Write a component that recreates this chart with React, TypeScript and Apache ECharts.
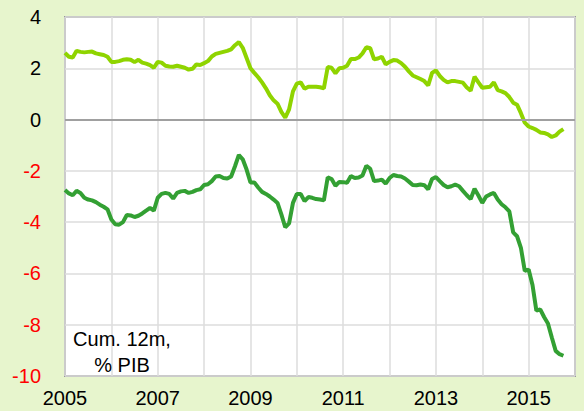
import React, { useEffect, useRef } from "react";
import * as echarts from "echarts";

// Monthly series, Jan 2005 onward
const startYear = 2005;
const upperSeries: number[] = [
  2.60, 2.45, 2.42, 2.68, 2.64, 2.62, 2.64, 2.65, 2.58, 2.55, 2.52, 2.45,
  2.25, 2.25, 2.28, 2.33, 2.35, 2.33, 2.24, 2.33, 2.22, 2.18, 2.12, 2.02,
  2.25, 2.22, 2.10, 2.07, 2.06, 2.10, 2.06, 2.02, 1.95, 1.98, 2.15, 2.13,
  2.20, 2.28, 2.46, 2.56, 2.60, 2.64, 2.68, 2.74, 2.90, 3.02, 2.80, 2.40,
  2.00, 1.82, 1.65, 1.45, 1.22, 0.95, 0.75, 0.62, 0.30, 0.07, 0.40, 1.10,
  1.40, 1.45, 1.20, 1.28, 1.28, 1.28, 1.26, 1.22, 2.05, 2.02, 1.80, 2.00,
  2.02, 2.10, 2.36, 2.36, 2.42, 2.58, 2.82, 2.78, 2.35, 2.38, 2.45, 2.15,
  2.25, 2.32, 2.30, 2.20, 2.06, 1.88, 1.72, 1.65, 1.58, 1.50, 1.33, 1.82,
  1.92, 1.70, 1.55, 1.45, 1.50, 1.50, 1.47, 1.44, 1.25, 1.13, 1.67, 1.45,
  1.24, 1.26, 1.28, 1.45, 1.15, 1.10, 1.03, 0.88, 0.66, 0.58, 0.25, -0.12,
  -0.27, -0.33, -0.40, -0.50, -0.52, -0.58, -0.68, -0.62, -0.47, -0.37,
];
const lowerSeries: number[] = [
  -2.75, -2.88, -2.95, -2.78, -2.86, -3.05, -3.12, -3.15, -3.22, -3.32, -3.40, -3.50,
  -3.90, -4.08, -4.10, -4.00, -3.72, -3.74, -3.80, -3.75, -3.66, -3.55, -3.45, -3.55,
  -3.05, -2.90, -2.86, -2.90, -3.08, -2.86, -2.80, -2.78, -2.86, -2.82, -2.75, -2.72,
  -2.55, -2.52, -2.40, -2.22, -2.20, -2.28, -2.30, -2.22, -1.82, -1.38, -1.55, -1.95,
  -2.45, -2.45, -2.65, -2.82, -2.90, -3.00, -3.12, -3.25, -3.70, -4.20, -4.05, -3.25,
  -2.90, -2.90, -3.18, -3.02, -3.05, -3.10, -3.12, -3.15, -2.25, -2.32, -2.58, -2.43,
  -2.44, -2.46, -2.20, -2.28, -2.26, -2.18, -1.80, -1.92, -2.40, -2.38, -2.34, -2.50,
  -2.28, -2.16, -2.20, -2.22, -2.30, -2.42, -2.55, -2.56, -2.53, -2.56, -2.72, -2.32,
  -2.24, -2.40, -2.55, -2.64, -2.60, -2.54, -2.60, -2.78, -2.95, -3.10, -2.70, -2.96,
  -3.25, -3.00, -2.92, -2.86, -3.12, -3.30, -3.42, -3.58, -4.40, -4.55, -5.00, -5.90,
  -5.85, -6.45, -7.45, -7.40, -7.70, -7.95, -8.50, -9.02, -9.15, -9.21,
];
const xMin = 2005;
const xMax = 2016;
const yMin = -10;
const yMax = 4;
const noteText = "Cum. 12m,\n% PIB";

const FONT = "Arial, 'Liberation Sans', sans-serif";

export default function App() {
  const ref = useRef<HTMLDivElement>(null);
  useEffect(() => {
    if (!ref.current) return;
    const chart = echarts.init(ref.current, null, { renderer: "svg" });
    const toPairs = (arr: number[]) => arr.map((v, i) => [startYear + i / 12, v]);
    chart.setOption({
      animation: false,
      backgroundColor: "#E7F5CD",
      grid: {
        left: 65,
        right: 9,
        top: 17,
        bottom: 35,
        show: true,
        backgroundColor: "#FFFFFF",
        borderColor: "#999999",
        borderWidth: 2,
      },
      xAxis: {
        type: "value",
        min: xMin,
        max: xMax,
        interval: 1,
        axisLine: { show: false },
        axisTick: { show: false },
        splitLine: { show: true, lineStyle: { color: "#DDDDDD", width: 1.5 } },
        axisLabel: {
          margin: 12,
          color: "#000",
          fontSize: 20,
          fontFamily: FONT,
          formatter: (v: number) => ((v - xMin) % 2 === 0 && v < xMax ? String(v) : ""),
        },
      },
      yAxis: {
        type: "value",
        min: yMin,
        max: yMax,
        interval: 2,
        axisLine: { show: false },
        axisTick: { show: false },
        splitLine: { show: true, lineStyle: { color: "#DDDDDD", width: 1.5 } },
        axisLabel: {
          margin: 24,
          fontSize: 20,
          fontFamily: FONT,
          formatter: (v: number) => (v < 0 ? `{r|${v}}` : `{b|${v}}`),
          rich: {
            r: { color: "#FF0000", fontSize: 20, fontFamily: FONT },
            b: { color: "#000000", fontSize: 20, fontFamily: FONT },
          },
        },
      },
      series: [
        {
          type: "line",
          data: toPairs(upperSeries),
          showSymbol: false,
          lineStyle: { color: "#8FD400", width: 4 },
          itemStyle: { color: "#8FD400" },
          markLine: {
            silent: true,
            symbol: ["none", "none"],
            label: { show: false },
            lineStyle: { color: "#A0A0A0", width: 2, type: "solid" },
            data: [{ yAxis: 0 }],
          },
          z: 3,
        },
        {
          type: "line",
          data: toPairs(lowerSeries),
          showSymbol: false,
          lineStyle: { color: "#33A033", width: 4 },
          itemStyle: { color: "#33A033" },
          z: 3,
        },
      ],
      graphic: [
        {
          type: "text",
          x: 122,
          y: 326,
          z: 10,
          style: {
            text: noteText,
            fill: "#000",
            font: `20px ${FONT}`,
            align: "center",
            verticalAlign: "top",
            lineHeight: 26,
          },
        },
      ],
    });
    return () => chart.dispose();
  }, []);
  return <div ref={ref} style={{ width: 584, height: 411, position: "absolute", left: 0, top: 0 }} />;
}
